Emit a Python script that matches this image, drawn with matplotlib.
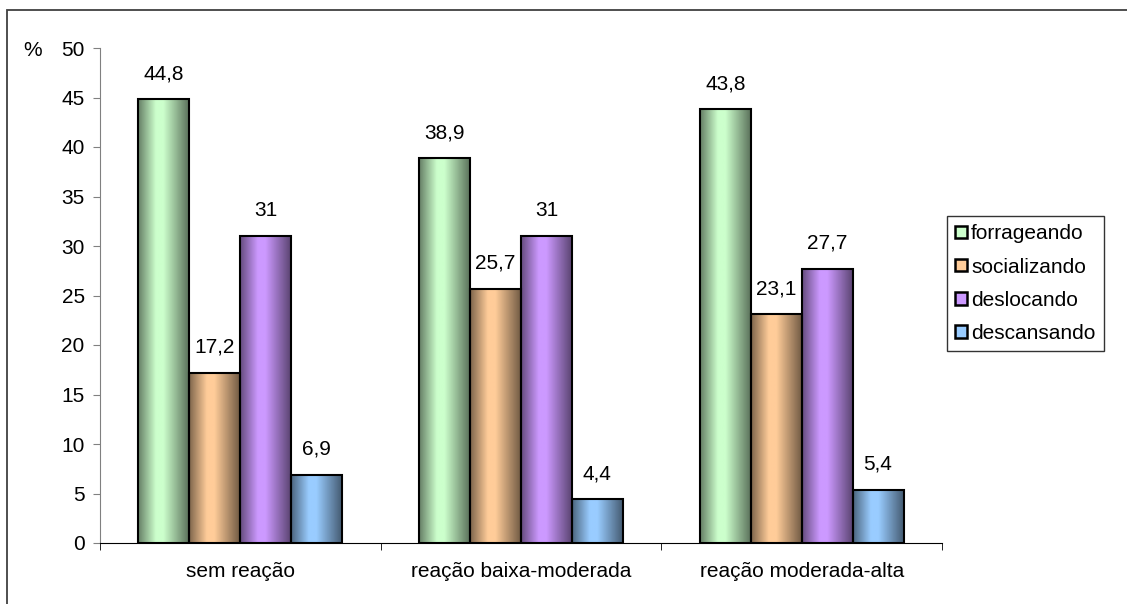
import numpy as np
import matplotlib.pyplot as plt
from matplotlib.colors import to_rgb
from matplotlib.patches import Patch, Rectangle

plt.rcParams['font.family'] = ['Liberation Sans', 'DejaVu Sans']
plt.rcParams['font.size'] = 15

categories = ['sem reação', 'reação baixa-moderada', 'reação moderada-alta']
series = ['forrageando', 'socializando', 'deslocando', 'descansando']
values = {
    'forrageando': [44.8, 38.9, 43.8],
    'socializando': [17.2, 25.7, 23.1],
    'deslocando': [31.0, 31.0, 27.7],
    'descansando': [6.9, 4.4, 5.4],
}
colors = ['#CCFFCC', '#FFCC99', '#CC99FF', '#99CCFF']
yticks = list(range(0, 55, 5))


def fmt(v):
    s = f'{v:.1f}'.replace('.', ',')
    return s[:-2] if s.endswith(',0') else s


def shade_strip(color):
    # horizontal shading: darker at both edges, brightest left of centre
    t = np.linspace(0, 1, 64)
    k = np.interp(t, [0, 0.35, 0.5, 1], [0.5, 1.0, 1.0, 0.45])
    rgb = np.array(to_rgb(color))
    return (rgb[None, :] * k[:, None])[None, :, :]


fig = plt.figure(figsize=(11.27, 6.04), dpi=100)
ax = fig.add_axes([100 / 1127, 61 / 604, 842 / 1127, 495 / 604])

# outer chart frame
fig.patches.append(Rectangle((7 / 1127, -0.1), 1.2, 0.1 + (604 - 10) / 604,
                             transform=fig.transFigure, fill=False,
                             edgecolor='#404040', lw=1.3))

x = np.arange(len(categories))
w = 0.1815
for i, (name, col) in enumerate(zip(series, colors)):
    pos = x + (i - 1.5) * w
    bars = ax.bar(pos, values[name], w, facecolor='none', edgecolor='black',
                  lw=1.5, zorder=3)
    for b, v in zip(bars, values[name]):
        img = ax.imshow(shade_strip(col), aspect='auto', interpolation='bilinear',
                        extent=(b.get_x(), b.get_x() + w, 0, v), zorder=2)
        img.set_clip_path(b)
        ax.text(b.get_x() + w / 2, v + 1.6, fmt(v), ha='center', va='bottom')

ax.set_xlim(-0.5, 2.5)
ax.set_ylim(0, 50)
ax.set_yticks(yticks)
ax.set_xticks(x)
ax.set_xticklabels(categories)
ax.set_xticks([-0.5, 0.5, 1.5, 2.5], minor=True)
ax.tick_params(axis='x', which='major', length=0, pad=14)
ax.tick_params(axis='x', which='minor', length=5, direction='out')
ax.tick_params(axis='y', length=5, direction='out', pad=6, color='#808080')
for s in ['top', 'right']:
    ax.spines[s].set_visible(False)
ax.spines['left'].set_color('#808080')
ax.spines['bottom'].set_color('black')
fig.text(33 / 1127, 1 - 50 / 604, '%', ha='center', va='center')

handles = [Patch(facecolor=c, edgecolor='black', lw=1.8) for c in colors]
leg = fig.legend(handles, series, loc='upper left',
                 bbox_to_anchor=(947 / 1127, 1 - 216 / 604),
                 frameon=True, fancybox=False, handlelength=0.55,
                 handleheight=0.55, handletextpad=0.2, labelspacing=0.68,
                 borderpad=0.4, borderaxespad=0)
leg.get_frame().set_edgecolor('black')
leg.get_frame().set_linewidth(1.0)

fig.savefig('out.png', dpi=100)
